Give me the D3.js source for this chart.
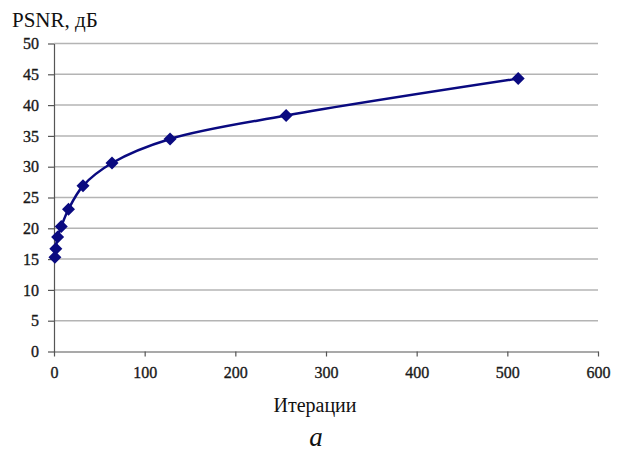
<!DOCTYPE html>
<html>
<head>
  <meta charset="utf-8">
  <title>PSNR vs iterations</title>
  <script src="https://cdn.jsdelivr.net/npm/d3@7"></script>
  <style>
    body { margin: 0; background: #fff; }
    .label { font-family: "Liberation Serif", serif; fill: #111; }
  </style>
</head>
<body>
<svg id="chart" width="619" height="452"></svg>
<script>
  // data
  var iterations = [1, 2, 4, 8, 16, 32, 64, 128, 256, 512];
  var psnr = [15.3, 16.7, 18.6, 20.3, 23.1, 26.9, 30.6, 34.5, 38.3, 44.3];
  var yTicks = [0, 5, 10, 15, 20, 25, 30, 35, 40, 45, 50];
  var xTicks = [0, 100, 200, 300, 400, 500, 600];

  var mLeft = 54, mRight = 598, mTop = 43.5, mBottom = 351.5;

  var svg = d3.select("#chart");

  var x = d3.scaleLinear().domain([0, 600]).range([mLeft, mRight]);
  var y = d3.scaleLinear().domain([0, 50]).range([mBottom, mTop]);

  // horizontal grid
  svg.append("g").selectAll("line")
    .data(yTicks.filter(function(d){ return d > 0; }))
    .enter().append("line")
    .attr("x1", mLeft).attr("x2", mRight)
    .attr("y1", function(d){ return y(d); })
    .attr("y2", function(d){ return y(d); })
    .style("stroke", "#b4b4b4")
    .style("stroke-width", 1.5);

  // axes
  var gy = svg.append("g")
    .attr("transform", "translate(" + mLeft + ",0)")
    .call(d3.axisLeft(y).tickValues(yTicks).tickSize(6).tickPadding(9).tickSizeOuter(0));
  var gx = svg.append("g")
    .attr("transform", "translate(0," + mBottom + ")")
    .call(d3.axisBottom(x).tickValues(xTicks).tickSize(5).tickPadding(10).tickSizeOuter(0));
  [gy, gx].forEach(function(g){
    g.attr("font-family", "'Liberation Serif', serif").attr("font-size", 16);
    g.selectAll("text")
      .style("fill", "#1a1a1a")
      .style("stroke", "#1a1a1a")
      .style("stroke-width", 0.35);
  });
  svg.selectAll(".domain, .tick line").style("stroke", "#555").style("stroke-width", 1.2);

  // smoothed line
  var pts = iterations.map(function(d, i){ return [d, psnr[i]]; });
  var line = d3.line()
    .x(function(d){ return x(d[0]); })
    .y(function(d){ return y(d[1]); })
    .curve(d3.curveCatmullRom.alpha(0.5));
  svg.append("path")
    .datum(pts)
    .attr("d", line)
    .style("fill", "none")
    .style("stroke", "#0a0a80")
    .style("stroke-width", 2.5);

  // diamond markers
  svg.append("g").selectAll("path")
    .data(pts)
    .enter().append("path")
    .attr("transform", function(d){ return "translate(" + x(d[0]) + "," + y(d[1]) + ")"; })
    .attr("d", "M0,-6.5L6.5,0L0,6.5L-6.5,0Z")
    .style("fill", "#0a0a80");

  // labels
  svg.append("text").attr("class", "label")
    .attr("x", 12).attr("y", 27)
    .style("font-size", "21px")
    .text("PSNR, дБ");
  svg.append("text").attr("class", "label")
    .attr("x", 315).attr("y", 412)
    .attr("text-anchor", "middle")
    .style("font-size", "20px")
    .text("Итерации");
  svg.append("text")
    .attr("x", 316).attr("y", 446)
    .attr("text-anchor", "middle")
    .style("font", "italic 27px 'Liberation Serif', serif")
    .style("fill", "#111")
    .text("a");
</script>
</body>
</html>
